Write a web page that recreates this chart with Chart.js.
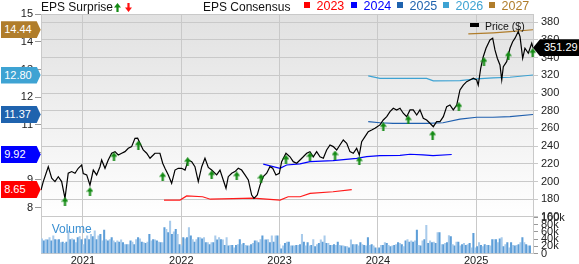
<!DOCTYPE html>
<html><head><meta charset="utf-8">
<script src="https://cdn.jsdelivr.net/npm/chart.js@4.4.1/dist/chart.umd.min.js"></script>
<style>
html,body{margin:0;padding:0;background:#fff;}
#wrap{position:relative;width:579px;height:264px;overflow:hidden;font-family:"Liberation Sans",Arial,sans-serif;}
#c{position:absolute;left:0;top:0;}
.t{position:absolute;white-space:nowrap;}
.sq{position:absolute;width:6px;height:6px;}
.eps{position:absolute;left:0.7px;width:40px;height:17px;color:#fff;font-size:11px;line-height:17px;padding-left:3.5px;box-sizing:border-box;
  clip-path:polygon(0 0,36px 0,40px 50%,36px 100%,0 100%);}
.tag{position:absolute;left:533px;width:46px;height:17px;background:#000;color:#fff;font-size:11px;line-height:17px;padding-left:11px;box-sizing:border-box;
  clip-path:polygon(0 50%,7px 0,100% 0,100% 100%,7px 100%);}
</style></head>
<body><div id="wrap"><canvas id="c" width="579" height="264"></canvas></div>
<script>
// ---------------- DATA ----------------
const priceDates = [2020.573,2020.596,2020.647,2020.682,2020.715,2020.749,2020.783,2020.817,2020.850,2020.885,2020.919,2020.952,2020.987,2021.003,2021.038,2021.071,2021.105,2021.139,2021.173,2021.190,2021.224,2021.257,2021.292,2021.326,2021.359,2021.394,2021.427,2021.461,2021.495,2021.529,2021.556,2021.580,2021.613,2021.648,2021.682,2021.715,2021.732,2021.783,2021.811,2021.834,2021.868,2021.902,2021.936,2021.969,2022.004,2022.038,2022.071,2022.106,2022.139,2022.173,2022.208,2022.241,2022.275,2022.309,2022.360,2022.394,2022.427,2022.455,2022.478,2022.513,2022.546,2022.580,2022.614,2022.648,2022.682,2022.716,2022.740,2022.773,2022.801,2022.834,2022.869,2022.902,2022.930,2022.963,2022.997,2023.021,2023.065,2023.106,2023.139,2023.174,2023.208,2023.241,2023.276,2023.309,2023.343,2023.377,2023.411,2023.445,2023.479,2023.513,2023.546,2023.581,2023.614,2023.648,2023.683,2023.716,2023.750,2023.784,2023.811,2023.835,2023.869,2023.902,2023.937,2023.970,2024.021,2024.055,2024.090,2024.123,2024.157,2024.191,2024.225,2024.258,2024.293,2024.327,2024.360,2024.395,2024.428,2024.462,2024.496,2024.530,2024.564,2024.598,2024.632,2024.666,2024.700,2024.733,2024.767,2024.802,2024.835,2024.869,2024.903,2024.937,2024.971,2025.005,2025.021,2025.046,2025.072,2025.100,2025.140,2025.168,2025.191,2025.215,2025.242,2025.260,2025.276,2025.310,2025.344,2025.371,2025.395,2025.428,2025.446,2025.473,2025.496,2025.530,2025.565,2025.578];
const priceValues = [190.5,200,216.8,203.7,200,205.5,200,181,209.4,211.3,209.4,215,218.8,209,207.5,196,213,207.5,216.8,224.4,215,224.4,232,233.8,230,232,233.8,237.6,239.5,248.9,249,243.3,235.7,232,226.3,230,232,232,220.7,215,207.5,198,213,215,215,213,224.4,222.5,216.8,200,216.8,226.3,216,213,207.5,213,201.8,192.4,205.5,209.4,211.3,215,213,207.5,201.8,184.8,181,184.8,196,205.5,209.4,216.8,215,207.5,209.4,222.5,232,228,222.5,220.7,224.4,228,232,233.8,228,233.8,228,226.3,235.7,241.3,239.5,235.7,241.3,247,243.3,233.8,232,237.6,230,245,250.8,256.4,258.3,260.2,264,269.6,273.3,279,282.8,280.9,282.8,277.2,273.3,281,281,275.2,281,271.5,269.6,265.9,262,267.7,267.7,273.3,284.7,286.5,281,286.5,303.5,309,312.9,314.8,316.7,314.8,309,328,341.1,350.6,360,362,348.7,339.3,331.7,314.8,329.8,335.5,350.6,358,362,369.5,363.8,339.3,350.6,345,356.3,351.29];
const lastPrice = 351.29;

const eps2023Dates = [2021.824,2021.987,2022.055,2022.217,2022.296,2022.526,2022.730,2023.005,2023.087,2023.209,2023.310,2023.544,2023.734];
const eps2023Values = [8.27,8.27,8.42,8.39,8.30,8.32,8.34,8.27,8.39,8.39,8.51,8.57,8.65];
const eps2024Dates = [2022.834,2023.004,2023.072,2023.208,2023.309,2023.543,2023.784,2023.886,2024.021,2024.225,2024.327,2024.459,2024.561,2024.751];
const eps2024Values = [9.57,9.42,9.54,9.58,9.66,9.70,9.78,9.84,9.88,9.89,9.93,9.91,9.88,9.92];
const eps2025Dates = [2023.902,2024.021,2024.154,2024.496,2024.662,2024.835,2025.005,2025.171,2025.344,2025.578];
const eps2025Values = [11.11,11.07,11.05,11.05,11.07,11.20,11.27,11.27,11.29,11.37];
const eps2026Dates = [2023.902,2024.021,2024.496,2024.564,2024.835,2025.005,2025.171,2025.344,2025.578];
const eps2026Values = [12.77,12.68,12.68,12.59,12.60,12.66,12.70,12.72,12.80];
const eps2027Dates = [2024.920,2025.174,2025.344,2025.578];
const eps2027Values = [14.29,14.33,14.37,14.44];
const consensusYears = ['2023','2024','2025','2026','2027'];
const consensusLatest = [8.65,9.92,11.37,12.80,14.44];

const surpriseDates = [2020.817,2021.071,2021.315,2021.563,2021.811,2022.065,2022.309,2022.564,2022.811,2023.065,2023.309,2023.564,2023.811,2024.055,2024.309,2024.557,2024.824,2025.079,2025.327,2025.575];
const surprisePrices = [177.3,188.6,228.1,241.3,205.5,222.5,207.5,206.3,203.7,225.2,228.1,230,223.3,262,269.6,252.6,284.6,335.5,341.9,345.6];

// weekly volume (thousands), first week starting volStart
const volStart = 2020.583;
const volumeK = [41,35,39,38,44,35,49,39,38,39,30,32,28,32,63,39,41,38,30,44,47,39,25,41,49,39,53,47,63,39,49,53,35,65,39,35,39,44,35,30,35,32,38,30,25,25,25,35,32,25,39,44,41,32,30,28,32,53,35,39,38,35,32,30,30,72,67,58,90,53,60,67,53,25,21,44,41,44,72,49,39,32,39,44,44,41,44,30,30,25,
30,30,49,38,44,39,38,23,44,21,23,23,16,23,25,39,25,28,23,21,21,25,28,35,35,30,39,49,38,38,39,30,49,32,49,49,25,13,21,28,32,32,21,21,21,23,23,25,53,32,21,30,21,23,39,19,25,28,38,32,49,28,28,23,23,25,23,32,23,21,21,19,19,16,38,25,25,25,21,30,25,23,21,44,23,25,21,16,
12,16,23,23,30,28,23,19,21,23,25,30,28,25,19,35,39,32,35,32,35,65,23,21,35,39,78,28,35,30,32,28,58,58,25,25,28,30,50,47,25,21,32,32,21,25,28,23,25,28,16,56,16,19,30,23,19,25,23,23,21,39,39,39,30,41,44,19,25,30,16,30,23,21,23,25,30,44,30,25,21,21];

const epsTicks = [8,9,10,11,12,13,14,15];
const priceTicks = [160,180,200,220,240,260,280,300,320,340,360,380];
const volTicks = [0,20,40,60,80,100];
const yearTicks = [2021,2022,2023,2024,2025];

// ---------------- STYLE ----------------
const epsColors = ['#ff1a1a','#0000ff','#1f5fae','#3ea3d3','#b07d2b'];
const tagColors = ['#ff0000','#0000ff','#1f63ae','#3ea3d3','#b07d2b'];
const gridColor = '#c9c9c9';
const FONT = '"Liberation Sans", Arial, sans-serif';

const arrowImg = document.createElement('canvas');
arrowImg.width = 7; arrowImg.height = 9;
(function(){const g = arrowImg.getContext('2d'); g.fillStyle = '#128a12'; g.beginPath();
 g.moveTo(3.5,0); g.lineTo(7,4.5); g.lineTo(4.6,4.5); g.lineTo(4.6,9); g.lineTo(2.4,9); g.lineTo(2.4,4.5); g.lineTo(0,4.5); g.closePath(); g.fill();})();

const zip = (xs, ys) => xs.map((x, i) => ({x, y: ys[i]}));
const epsSets = [[eps2023Dates,eps2023Values],[eps2024Dates,eps2024Values],[eps2025Dates,eps2025Values],[eps2026Dates,eps2026Values],[eps2027Dates,eps2027Values]];

const datasets = [];
datasets.push({type:'line', data: zip(surpriseDates, surprisePrices), yAxisID:'yPrice', showLine:false,
  pointStyle: arrowImg, pointRadius: 4, order: 0, clip: false});
datasets.push({type:'line', data: zip(priceDates, priceValues), yAxisID:'yPrice', borderColor:'#000', borderWidth:1.2,
  pointRadius:0, tension:0, order:1});
epsSets.forEach((s, i) => datasets.push({type:'line', data: zip(s[0], s[1]), yAxisID:'yEps', borderColor: epsColors[i],
  borderWidth:1.2, pointRadius:0, tension:0, order:2}));
datasets.push({type:'bar', data: volumeK.map((v, i) => ({x: volStart + i * 7 / 365.25, y: v})), yAxisID:'yVol',
  backgroundColor: volumeK.map((v, i) => i % 2 ? '#5d9ed8' : '#a9cbeb'), barThickness: 1.4, order: 3});

const bgPlugin = {
  id: 'bg',
  beforeDraw(chart) {
    const {ctx, chartArea: a} = chart; const yp = chart.scales.yPrice;
    ctx.save();
    ctx.fillStyle = '#fff'; ctx.fillRect(0, 0, chart.width, chart.height);
    const g = ctx.createLinearGradient(0, a.top, 0, yp.bottom);
    g.addColorStop(0, '#e1e1e1'); g.addColorStop(1, '#ffffff');
    ctx.fillStyle = g; ctx.fillRect(a.left, a.top, a.right - a.left, yp.bottom - a.top);
    ctx.strokeStyle = gridColor; ctx.lineWidth = 1;
    ctx.beginPath(); ctx.moveTo(a.left, Math.round(a.top) + 0.5); ctx.lineTo(a.right, Math.round(a.top) + 0.5); ctx.stroke();
    ctx.restore();
  }
};

const tickFont = {family: FONT, size: 11};
const setTicks = arr => s => { s.ticks = arr.map(v => ({value: v})); };

const chart = new Chart(document.getElementById('c'), {
  type: 'line',
  data: {datasets},
  plugins: [bgPlugin],
  options: {
    responsive: false, animation: false, events: [],
    layout: {padding: {top: 14.3, left: 0, right: 0, bottom: 0}},
    plugins: {legend: {display: false}, tooltip: {enabled: false}},
    scales: {
      x: {type: 'linear', min: 2020.573, max: 2025.578, offset: false, afterBuildTicks: setTicks(yearTicks),
        afterFit: s => { s.height = 10.5; },
        ticks: {font: tickFont, color: '#222', padding: 1, autoSkip: false, maxRotation: 0, callback: v => String(v)},
        grid: {color: gridColor, drawTicks: false, offset: false}, border: {color: gridColor}},
      yEps: {type: 'linear', position: 'left', min: 6.333, max: 15, afterBuildTicks: setTicks(epsTicks),
        afterFit: s => { s.width = 41; },
        ticks: {font: tickFont, color: '#222', padding: 2, autoSkip: false, callback: v => String(v)},
        grid: {drawOnChartArea: false, tickLength: 6, color: '#999'}, border: {color: gridColor}},
      yPrice: {type: 'linear', position: 'right', stack: 'r', stackWeight: 203.2, min: 159.4, max: 389.0,
        afterBuildTicks: setTicks(priceTicks), afterFit: s => { s.width = 46; },
        ticks: {font: tickFont, color: '#222', padding: 3, autoSkip: false, callback: v => String(v)},
        grid: {color: gridColor, tickLength: 5}, border: {color: gridColor}},
      yVol: {type: 'linear', position: 'right', stack: 'r', stackWeight: 36, min: 0, max: 100,
        afterBuildTicks: setTicks(volTicks), afterFit: s => { s.width = 46; },
        ticks: {font: tickFont, color: '#222', padding: 3, autoSkip: false, callback: v => v === 0 ? '0' : v + 'k'},
        grid: {drawOnChartArea: false, tickLength: 5, color: '#999'}, border: {color: gridColor}}
    }
  }
});

// ---------------- TEXT OVERLAYS ----------------
const wrap = document.getElementById('wrap');
function add(html, css, cls) { const d = document.createElement('div'); d.className = cls || 't'; d.innerHTML = html; Object.assign(d.style, css); wrap.appendChild(d); return d; }
const upSvg = '<svg width="7" height="9"><polygon points="3.5,0 7,4.5 4.6,4.5 4.6,9 2.4,9 2.4,4.5 0,4.5" fill="#128a12"/></svg>';
const dnSvg = '<svg width="7" height="9"><polygon points="3.5,9 7,4.5 4.6,4.5 4.6,0 2.4,0 2.4,4.5 0,4.5" fill="#ff1010"/></svg>';
add('EPS Surprise', {left: '41px', top: '0.5px', fontSize: '12px', lineHeight: '12px', color: '#111'});
add(upSvg, {left: '113.5px', top: '2.5px', lineHeight: '0'});
add(dnSvg, {left: '124.5px', top: '2.5px', lineHeight: '0'});
add('EPS Consensus', {left: '203px', top: '0.5px', fontSize: '12px', lineHeight: '12px', color: '#111'});
const sqX = [304, 351, 397, 443, 489];
consensusYears.forEach((yr, i) => {
  add('', {left: sqX[i] + 'px', top: '2px', background: tagColors[i]}, 'sq');
  add(yr, {left: (sqX[i] + 12.5) + 'px', top: '-0.5px', fontSize: '12.5px', lineHeight: '12.5px', color: tagColors[i]});
});
add('', {left: '470px', top: '23px', width: '8.5px', height: '4px', background: '#000'});
add('Price ($)', {left: '485px', top: '20.5px', fontSize: '10.5px', lineHeight: '11px', color: '#111'});
add('Volume', {left: '51.7px', top: '223px', fontSize: '12px', lineHeight: '12px', color: '#3a8fd2'});

const yE = chart.scales.yEps, yP = chart.scales.yPrice;
consensusLatest.forEach((v, i) => {
  add(v.toFixed(2), {top: (yE.getPixelForValue(v) - 8.5) + 'px', background: tagColors[i]}, 'eps');
});
add(lastPrice.toFixed(2), {top: (yP.getPixelForValue(lastPrice) - 8.5) + 'px'}, 'tag');
</script>
</body></html>
